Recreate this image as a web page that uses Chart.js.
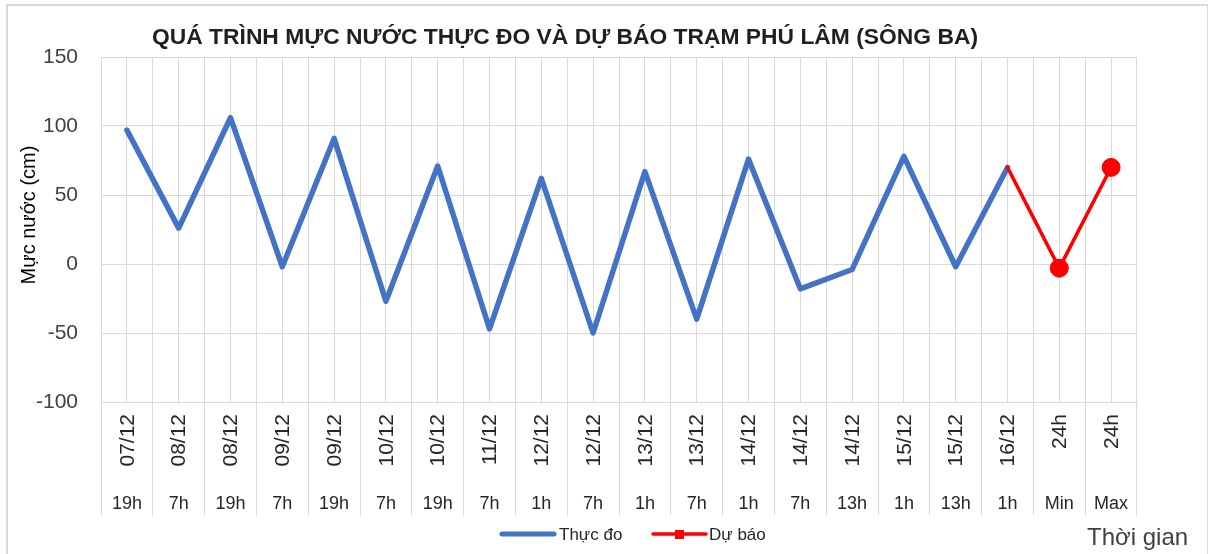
<!DOCTYPE html>
<html><head><meta charset="utf-8">
<script src="https://cdn.jsdelivr.net/npm/chart.js@4.4.0/dist/chart.umd.min.js"></script>
<style>html,body{margin:0;padding:0;background:#fff;}#wrap{width:1208px;height:554px;}</style>
</head><body><div id="wrap"><canvas id="c" width="1208" height="554"></canvas></div>
<script>
const chartTitle = "QUÁ TRÌNH MỰC NƯỚC THỰC ĐO VÀ DỰ BÁO TRẠM PHÚ LÂM (SÔNG BA)";
const yAxisTitle = "Mực nước (cm)";
const xAxisTitle = "Thời gian";
const dateLabels = ["07/12","08/12","08/12","09/12","09/12","10/12","10/12","11/12","12/12","12/12","13/12","13/12","14/12","14/12","14/12","15/12","15/12","16/12","24h","24h"];
const hourLabels = ["19h","7h","19h","7h","19h","7h","19h","7h","1h","7h","1h","7h","1h","7h","13h","1h","13h","1h","Min","Max"];
const measured = [97,26,106,-2,91,-27,71,-47,62,-50,67,-40,76,-18,-4,78,-2,70,null,null];
const forecast = [null,null,null,null,null,null,null,null,null,null,null,null,null,null,null,null,null,70,-3,70];
const seriesNames = ["Thực đo","Dự báo"];
const yMin = -100, yMax = 150, yStep = 50;

const FAM = "'Liberation Sans', Arial, sans-serif";
Chart.defaults.font.family = FAM;
const firstForecast = forecast.findIndex(v => v !== null);
const BLUE = '#4472C4', RED = '#FF0000', GRID = '#d9d9d9';

const decor = {
  id: 'decor',
  afterDraw(chart) {
    const ctx = chart.ctx;
    const xs = chart.scales.x;
    ctx.save();
    // outer border
    ctx.strokeStyle = '#d9d9d9'; ctx.lineWidth = 2;
    ctx.strokeRect(7, 5, 1201, 560);
    // title
    ctx.fillStyle = '#1f1f1f';
    ctx.font = "bold 22px " + FAM;
    ctx.textBaseline = 'alphabetic'; ctx.textAlign = 'center';
    const tw = ctx.measureText(chartTitle).width;
    const sx = 826 / tw;
    ctx.save(); ctx.translate(565, 44); ctx.scale(sx, 1); ctx.fillText(chartTitle, 0, 0); ctx.restore();
    // y title
    ctx.save(); ctx.translate(29, 215); ctx.rotate(-Math.PI/2);
    ctx.font = "20px " + FAM; ctx.textAlign = 'center'; ctx.textBaseline = 'middle';
    ctx.fillStyle = '#000'; ctx.fillText(yAxisTitle, 0, 0); ctx.restore();
    // x labels
    ctx.fillStyle = '#262626';
    dateLabels.forEach((d, i) => {
      const x = xs.getPixelForValue(i);
      ctx.save(); ctx.translate(x + 1, 414); ctx.rotate(-Math.PI/2);
      ctx.font = "21px " + FAM; ctx.textAlign = 'right'; ctx.textBaseline = 'middle';
      ctx.fillText(d, 0, 0); ctx.restore();
      ctx.font = "18px " + FAM; ctx.textAlign = 'center'; ctx.textBaseline = 'alphabetic';
      ctx.fillText(hourLabels[i], x, 509);
    });
    // legend
    ctx.lineCap = 'round';
    ctx.strokeStyle = BLUE; ctx.lineWidth = 5;
    ctx.beginPath(); ctx.moveTo(502, 534); ctx.lineTo(554, 534); ctx.stroke();
    ctx.strokeStyle = RED; ctx.lineWidth = 3.5;
    ctx.beginPath(); ctx.moveTo(653, 534); ctx.lineTo(706, 534); ctx.stroke();
    ctx.fillStyle = RED; ctx.fillRect(675, 530, 9, 9);
    ctx.fillStyle = '#262626'; ctx.font = "17px " + FAM; ctx.textAlign = 'left';
    ctx.fillText(seriesNames[0], 559, 540);
    ctx.fillText(seriesNames[1], 709, 540);
    // x axis title
    ctx.fillStyle = '#404040'; ctx.font = "24px " + FAM;
    ctx.fillText(xAxisTitle, 1087, 545);
    ctx.restore();
  }
};

new Chart(document.getElementById('c'), {
  type: 'line',
  data: {
    labels: dateLabels.map((d, i) => d + ' ' + hourLabels[i]),
    datasets: [
      { label: seriesNames[0], data: measured, borderColor: BLUE, backgroundColor: BLUE, borderWidth: 5.5,
        pointRadius: 0, tension: 0, borderCapStyle: 'round', borderJoinStyle: 'round', order: 1, spanGaps: false },
      { label: seriesNames[1], data: forecast, borderColor: RED, backgroundColor: RED, borderWidth: 3.5,
        pointRadius: c => (c.dataIndex === firstForecast ? 0 : 9), pointBorderWidth: 1, pointBorderColor: RED,
        pointBackgroundColor: RED, tension: 0, borderCapStyle: 'round', borderJoinStyle: 'round', order: 0 }
    ]
  },
  options: {
    responsive: false, animation: false, devicePixelRatio: 1,
    layout: { padding: { top: 57, right: 71, left: 0, bottom: 0 } },
    plugins: { legend: { display: false }, tooltip: { enabled: false }, title: { display: false } },
    scales: {
      x: { type: 'category', offset: true,
        grid: { offset: true, color: GRID, lineWidth: 1, drawTicks: true, tickLength: 113, tickColor: GRID },
        border: { display: true, color: GRID },
        ticks: { display: false },
        afterFit: s => { s.height = 152; } },
      x2: { type: 'category', position: 'bottom', offset: true,
        grid: { offset: false, color: GRID, lineWidth: 1, drawTicks: false },
        border: { display: false }, ticks: { display: false },
        afterFit: s => { s.height = 0; } },
      y: { min: yMin, max: yMax,
        ticks: { stepSize: yStep, color: '#404040', font: { size: 21 }, padding: 23 },
        grid: { color: GRID, lineWidth: 1, drawTicks: false },
        border: { display: true, color: GRID },
        afterFit: s => { s.width = 101; } }
    }
  },
  plugins: [decor]
});
</script></body></html>
